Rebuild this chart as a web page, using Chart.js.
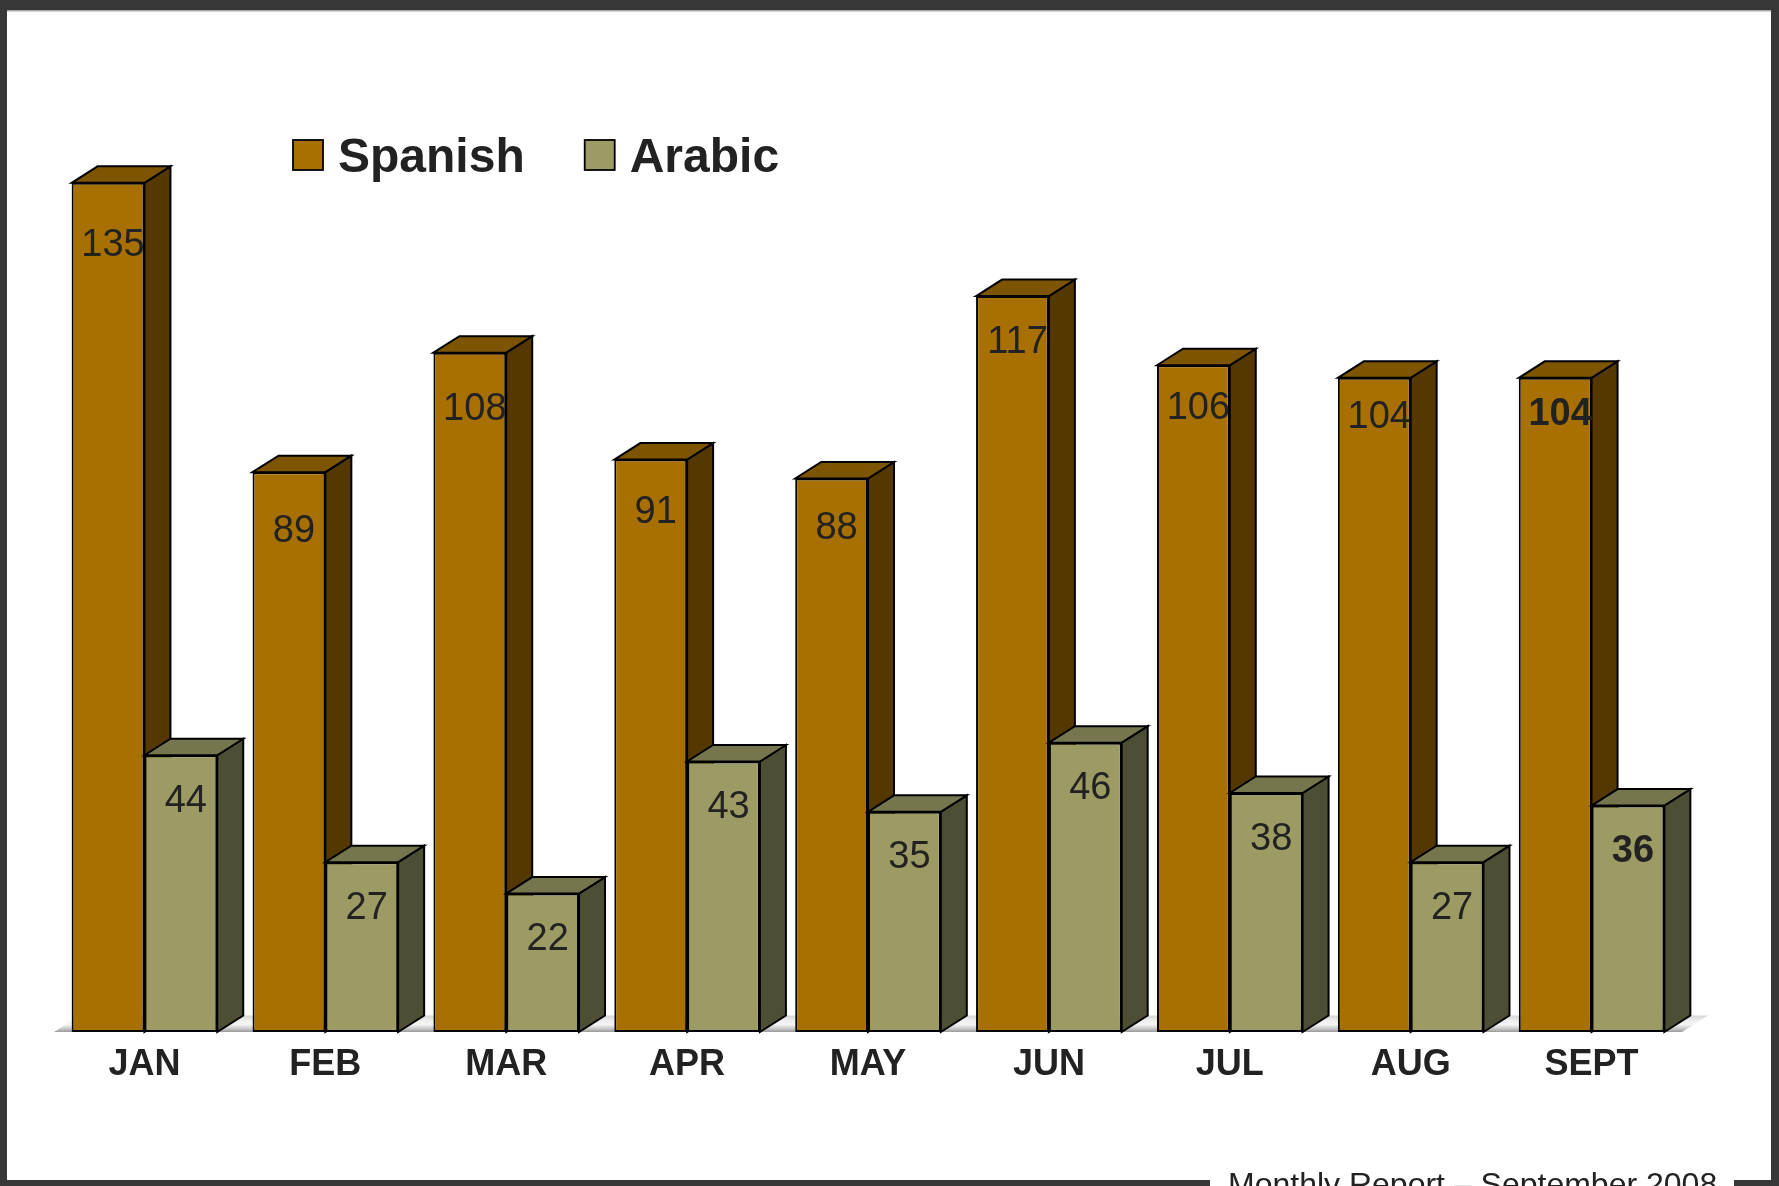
<!DOCTYPE html>
<html><head><meta charset="utf-8">
<script src="https://cdn.jsdelivr.net/npm/chart.js@4.4.1/dist/chart.umd.min.js"></script>
<style>html,body{margin:0;padding:0;background:#fff;overflow:hidden}canvas{display:block}</style>
</head><body>
<canvas id="c" width="1779" height="1186"></canvas>
<script>
const months = ['JAN','FEB','MAR','APR','MAY','JUN','JUL','AUG','SEPT'];
const spanish = [135, 89, 108, 91, 88, 117, 106, 104, 104];
const arabic = [44, 27, 22, 43, 35, 46, 38, 27, 36];
const seriesNames = ['Spanish', 'Arabic'];
const footerText = 'Monthly Report \u2013 September 2008';

const FONT = '"Liberation Sans", Arial, Helvetica, sans-serif';
const DX = 26, DY = 16.5;
const palette = [
  {front: '#A87000', side: '#553800', top: '#7D5400'},
  {front: '#9D9B64', side: '#4E4E34', top: '#76764E'}
];

const bars3d = {
  id: 'bars3d',
  beforeDatasetsDraw(chart) {
    const ctx = chart.ctx, a = chart.chartArea;
    // floor
    ctx.save();
    const fy = a.bottom;
    const g = ctx.createLinearGradient(0, fy - DY, 0, fy);
    g.addColorStop(0, '#d6d6d6');
    g.addColorStop(0.3, '#eeeeee');
    g.addColorStop(0.55, '#f4f4f4');
    g.addColorStop(0.8, '#c8c8c8');
    g.addColorStop(1, '#9a9a9a');
    ctx.beginPath();
    ctx.moveTo(a.left, fy); ctx.lineTo(a.right, fy);
    ctx.lineTo(a.right + DX, fy - DY); ctx.lineTo(a.left + DX, fy - DY);
    ctx.closePath();
    ctx.fillStyle = g; ctx.fill();
    ctx.restore();

    chart.data.datasets.forEach((ds, di) => {
      const meta = chart.getDatasetMeta(di);
      const pal = palette[di];
      meta.data.forEach(el => {
        el.draw(ctx);
        const {x, y, base, width} = el.getProps(['x', 'y', 'base', 'width'], true);
        const l = x - width / 2, r = x + width / 2;
        ctx.save();
        ctx.lineWidth = 2; ctx.strokeStyle = '#000'; ctx.lineJoin = 'miter';
        ctx.beginPath();
        ctx.moveTo(r, y); ctx.lineTo(r + DX, y - DY); ctx.lineTo(r + DX, base - DY); ctx.lineTo(r, base);
        ctx.closePath();
        ctx.fillStyle = pal.side; ctx.fill(); ctx.stroke();
        ctx.beginPath();
        ctx.moveTo(l, y); ctx.lineTo(l + DX, y - DY); ctx.lineTo(r + DX, y - DY); ctx.lineTo(r, y);
        ctx.closePath();
        ctx.fillStyle = pal.top; ctx.fill(); ctx.stroke();
        ctx.restore();
      });
    });

    // value labels
    const size = 38;
    chart.data.datasets.forEach((ds, di) => {
      const meta = chart.getDatasetMeta(di);
      meta.data.forEach((el, i) => {
        const {x, y} = el.getProps(['x', 'y'], true);
        const bold = i === months.length - 1;
        const off = di === 0 ? (60 - 3.3 * i) : 43;
        ctx.save();
        ctx.font = (bold ? 'bold ' : '') + size + 'px ' + FONT;
        ctx.fillStyle = '#222';
        ctx.textAlign = 'center';
        ctx.textBaseline = 'alphabetic';
        ctx.fillText(String(ds.data[i]), x + 5, y + off + 0.358 * size);
        ctx.restore();
      });
    });
    return false;
  },
  afterDraw(chart) {
    const ctx = chart.ctx, W = chart.width, H = chart.height;
    // legend
    ctx.save();
    let lx = 293;
    ctx.font = 'bold 48px ' + FONT;
    ctx.textBaseline = 'alphabetic';
    chart.data.datasets.forEach((ds, di) => {
      ctx.fillStyle = palette[di].front;
      ctx.fillRect(lx, 140, 30, 30);
      ctx.lineWidth = 1.8; ctx.strokeStyle = '#000';
      ctx.strokeRect(lx, 140, 30, 30);
      ctx.fillStyle = '#222';
      ctx.fillText(ds.label, lx + 45, 171.5);
      lx = lx + 45 + ctx.measureText(ds.label).width + 60;
    });
    ctx.restore();
    // frame
    ctx.save();
    ctx.fillStyle = '#373737';
    ctx.fillRect(0, 0, W, 10);
    ctx.fillRect(0, 0, 7, H);
    ctx.fillRect(W - 8, 0, 8, H);
    ctx.fillRect(0, H - 6, 1210, 6);
    ctx.fillRect(1734, H - 6, W - 1734, 6);
    ctx.fillStyle = '#a8a8a8';
    ctx.fillRect(7, 10, W - 15, 1.5);
    ctx.fillStyle = '#222';
    ctx.font = '32px ' + FONT;
    ctx.textAlign = 'left';
    ctx.textBaseline = 'alphabetic';
    ctx.fillText(footerText, 1228, 1195);
    ctx.restore();
  }
};

new Chart(document.getElementById('c'), {
  type: 'bar',
  data: {
    labels: months,
    datasets: [
      {label: seriesNames[0], data: spanish, backgroundColor: palette[0].front, borderColor: '#000', borderWidth: 2, borderSkipped: false},
      {label: seriesNames[1], data: arabic, backgroundColor: palette[1].front, borderColor: '#000', borderWidth: 2, borderSkipped: false}
    ]
  },
  options: {
    responsive: false,
    animation: false,
    devicePixelRatio: 1,
    events: [],
    datasets: {bar: {barPercentage: 1.0, categoryPercentage: 0.805}},
    layout: {padding: {left: 54, right: 97, top: 88.5, bottom: 94}},
    plugins: {legend: {display: false}, tooltip: {enabled: false}, title: {display: false}},
    scales: {
      x: {
        grid: {display: false, drawTicks: false, tickLength: 0},
        border: {display: false},
        ticks: {font: {family: FONT, size: 36, weight: 'bold'}, color: '#222', padding: 11.5, maxRotation: 0, autoSkip: false},
        afterFit(scale) { scale.height = 60; }
      },
      y: {display: false, min: 0, max: 150}
    }
  },
  plugins: [bars3d]
});
</script>
</body></html>
